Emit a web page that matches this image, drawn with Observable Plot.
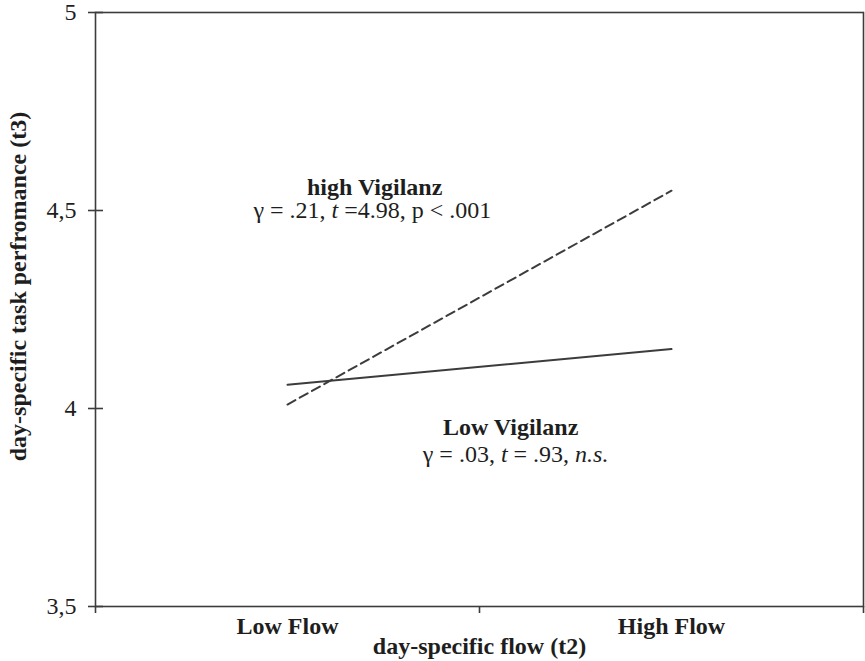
<!DOCTYPE html>
<html><head><meta charset="utf-8">
<script src="https://cdn.jsdelivr.net/npm/d3@7"></script>
<script src="https://cdn.jsdelivr.net/npm/@observablehq/plot@0.6"></script>
<style>
body{margin:0;background:#fff}
svg{font-family:"Liberation Serif","Times New Roman",serif}
</style>
</head><body><div id="chart"></div>
<script>
const categories = ["Low Flow", "High Flow"];
const highVigilanzValues = [4.01, 4.55];
const lowVigilanzValues = [4.06, 4.15];
const yTicks = [3.5, 4, 4.5, 5];
const xLabel = "day-specific flow (t2)";
const yLabel = "day-specific task perfromance (t3)";
// annotation texts (*...* marks italic) and their anchor in data units
const annotationTexts = ["high Vigilanz", "γ = .21, *t* =4.98, p < .001", "Low Vigilanz", "γ = .03, *t* = .93, *n.s.*"];
const annotationBold = [true, false, true, false];
const annotationX = [0.727, 0.721, 1.081, 1.094];
const annotationY = [4.54, 4.48, 3.932, 3.866];

const plain = s => s.replace(/\*/g, "");
const series = (vals) => vals.map((v, i) => ({pos: i + 0.5, value: v, cat: categories[i]}));
const annotations = annotationTexts.map((t, i) => ({text: plain(t), raw: t, bold: annotationBold[i], x: annotationX[i], y: annotationY[i]}));

const ink = "#3c3c3c";
const fs = 24;
const plot = Plot.plot({
  width: 865, height: 661,
  marginLeft: 95, marginRight: 2, marginTop: 12, marginBottom: 55,
  style: {fontFamily: "Liberation Serif, Times New Roman, serif", fontSize: fs + "px", color: "#1e1e1e", background: "#fff"},
  x: {type: "linear", domain: [0, categories.length]},
  y: {domain: [3.5, 5]},
  marks: [
    Plot.frame({stroke: ink, strokeWidth: 1.6}),
    Plot.axisY({ticks: yTicks, tickSize: 15, dx: 8, tickPadding: 12, tickFormat: d => String(d).replace(".", ","), label: null, stroke: ink, strokeWidth: 1.6, fontSize: fs}),
    Plot.axisX({ticks: d3.range(categories.length + 1), tickSize: 7, tickFormat: () => "", label: null, stroke: ink, strokeWidth: 1.6}),
    Plot.text(categories, {x: (d, i) => i + 0.5, frameAnchor: "bottom", lineAnchor: "bottom", dy: 27, fontWeight: "bold", fontSize: fs}),
    Plot.text([xLabel], {frameAnchor: "bottom", textAnchor: "middle", lineAnchor: "bottom", dy: 47, fontWeight: "bold", fontSize: fs}),
    Plot.text([yLabel], {frameAnchor: "left", textAnchor: "middle", rotate: -90, lineAnchor: "middle", dx: -77, dy: -23, fontWeight: "bold", fontSize: fs}),
    Plot.line(series(lowVigilanzValues), {x: "pos", y: "value", stroke: ink, strokeWidth: 2}),
    Plot.line(series(highVigilanzValues), {x: "pos", y: "value", stroke: ink, strokeWidth: 2, strokeDasharray: "9,5"}),
    Plot.text(annotations.filter(d => d.bold), {x: "x", y: "y", text: "text", lineAnchor: "bottom", fontWeight: "bold", fontSize: fs}),
    Plot.text(annotations.filter(d => !d.bold), {x: "x", y: "y", text: "text", lineAnchor: "bottom", fontSize: fs})
  ]
});
document.getElementById("chart").appendChild(plot);

// italic segments
const rawByPlain = new Map(annotations.map(d => [d.text, d.raw]));
d3.select(plot).selectAll("text").each(function() {
  const raw = rawByPlain.get(this.textContent);
  if (!raw || raw === plain(raw)) return;
  const el = d3.select(this);
  el.text(null);
  raw.split("*").forEach((seg, k) => {
    if (!seg) return;
    const ts = el.append("tspan").text(seg);
    if (k % 2 === 1) ts.attr("font-style", "italic");
  });
});
</script>
</body></html>
